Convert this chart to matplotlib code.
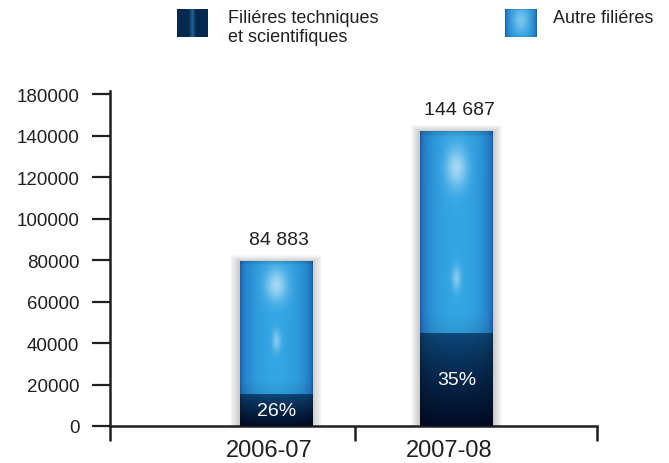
import numpy as np
import matplotlib
matplotlib.use("Agg")
import matplotlib.pyplot as plt
from matplotlib.colors import to_rgb
from matplotlib.patches import Rectangle

plt.rcParams['font.family'] = ['Liberation Sans', 'DejaVu Sans']

# donnees
annees = ['2006-07', '2007-08']
techniques = [15200, 44600]
autres = [63900, 97200]
totaux = ['84 883', '144 687']
parts = ['26%', '35%']
yticks = [0, 20000, 40000, 60000, 80000, 100000, 120000, 140000, 160000]
ytick_labels = ['0', '20000', '40000', '60000', '80000', '100000', '120000', '140000', '180000']
legende = ['Filiéres techniques\net scientifiques', 'Autre filiéres']

txt = '#231f20'


def degrade_clair(n=220, m=70, spots=((0.18, 0.3, 0.12, 0.55), (0.65, 0.12, 0.07, 0.4))):
    yy, xx = np.mgrid[0:1:n * 1j, -1:1:m * 1j]
    edge = np.array(to_rgb('#175eb0'))
    center = np.array(to_rgb('#33a6e4'))
    w = np.clip(1 - xx ** 2, 0, 1) ** 0.5
    img = edge + (center - edge) * w[..., None]
    # bas un peu plus sombre
    img = img * (1 - 0.08 * np.clip((yy - 0.9) / 0.1, 0, 1))[..., None]
    # haut legerement sombre
    img = img * (1 - 0.15 * np.clip((0.03 - yy) / 0.03, 0, 1))[..., None]
    h = np.zeros_like(xx)
    for cy, sx, sy, a in spots:
        h += a * np.exp(-(xx / sx) ** 2 - ((yy - cy) / sy) ** 2)
    img = img + (1 - img) * np.clip(h, 0, 1)[..., None]
    return np.clip(img, 0, 1)


def degrade_fonce(n=120, m=70):
    yy, xx = np.mgrid[0:1:n * 1j, -1:1:m * 1j]
    top = np.array(to_rgb('#0d4a7e'))
    bot = np.array(to_rgb('#020c26'))
    img = top + (bot - top) * (yy ** 0.8)[..., None]
    w = np.clip(1 - xx ** 2, 0, 1) ** 0.4
    img = img * (0.7 + 0.3 * w)[..., None]
    return np.clip(img, 0, 1)


fig = plt.figure(figsize=(6.69, 4.64), dpi=100)
ax = fig.add_axes([110 / 669, 37 / 464, 487 / 669, 335.5 / 464])

pos = [0.682, 1.423]
larg = 0.296
ymax = 161700

for i, x in enumerate(pos):
    x0 = x - larg / 2
    total = techniques[i] + autres[i]
    # ombre portee
    for k in range(1, 10):
        dx = k * 0.0045
        dy = k * 500
        ax.add_patch(Rectangle((x0 - dx, -dy * 0.3), larg + 2 * dx, total + dy,
                               color='black', alpha=0.022, lw=0, zorder=2.5))
    # segment fonce
    ax.imshow(degrade_fonce(), extent=[x0, x0 + larg, 0, techniques[i]],
              aspect='auto', origin='upper', interpolation='bilinear', zorder=3)
    # segment clair
    if i == 0:
        sp = ((0.18, 0.3, 0.12, 0.55), (0.6, 0.12, 0.08, 0.4))
    else:
        sp = ((0.18, 0.3, 0.1, 0.55), (0.73, 0.12, 0.06, 0.4))
    ax.imshow(degrade_clair(spots=sp), extent=[x0, x0 + larg, techniques[i], total],
              aspect='auto', origin='upper', interpolation='bilinear', zorder=3)
    ax.text(x, techniques[i] / 2, parts[i], color='white', fontsize=14,
            ha='center', va='center', zorder=4)
    ax.annotate(totaux[i], (x, total), xytext=(2, 16), textcoords='offset points',
                ha='center', va='center', fontsize=14, color=txt)
    ax.text(x - 0.03, -0.04, annees[i], transform=ax.get_xaxis_transform(),
            ha='center', va='top', fontsize=17, color=txt, clip_on=False)

ax.set_xlim(0, 2)
ax.set_ylim(0, ymax)
ax.set_yticks(yticks)
ax.set_yticklabels(ytick_labels)
ax.set_xticks([0, 1.006, 2])
ax.set_xticklabels([])
ax.spines['top'].set_visible(False)
ax.spines['right'].set_visible(False)
for s in ['left', 'bottom']:
    ax.spines[s].set_color(txt)
    ax.spines[s].set_linewidth(1.8)
    ax.spines[s].set_zorder(2)
ax.tick_params(axis='y', direction='out', length=13, width=1.6, color=txt,
               labelsize=13.5, labelcolor=txt, pad=9)
ax.tick_params(axis='x', direction='out', length=11, width=1.8, color=txt)
ax.set_facecolor('none')

# legende
sw1 = fig.add_axes([177 / 669, (464 - 38) / 464, 31 / 669, 28 / 464])
yy, xx = np.mgrid[0:1:30j, -1:1:40j]
c_bord = np.array(to_rgb('#04284e'))
c_mil = np.array(to_rgb('#1d6090'))
c1 = c_bord + (c_mil - c_bord) * np.exp(-(xx / 0.15) ** 2)[..., None]
sw1.imshow(np.clip(c1, 0, 1), aspect='auto', interpolation='bilinear')
sw1.axis('off')
fig.text(228 / 669, 1 - 10 / 464, legende[0], fontsize=13, color=txt,
         ha='left', va='top', linespacing=1.15)

sw2 = fig.add_axes([505 / 669, (464 - 38) / 464, 32 / 669, 28 / 464])
c2 = degrade_clair(30, 40, spots=((0.4, 0.5, 0.4, 0.35),))
sw2.imshow(c2, aspect='auto', interpolation='bilinear')
sw2.axis('off')
fig.text(553 / 669, 1 - 10 / 464, legende[1], fontsize=13, color=txt,
         ha='left', va='top')

fig.savefig('out.png', dpi=100)
